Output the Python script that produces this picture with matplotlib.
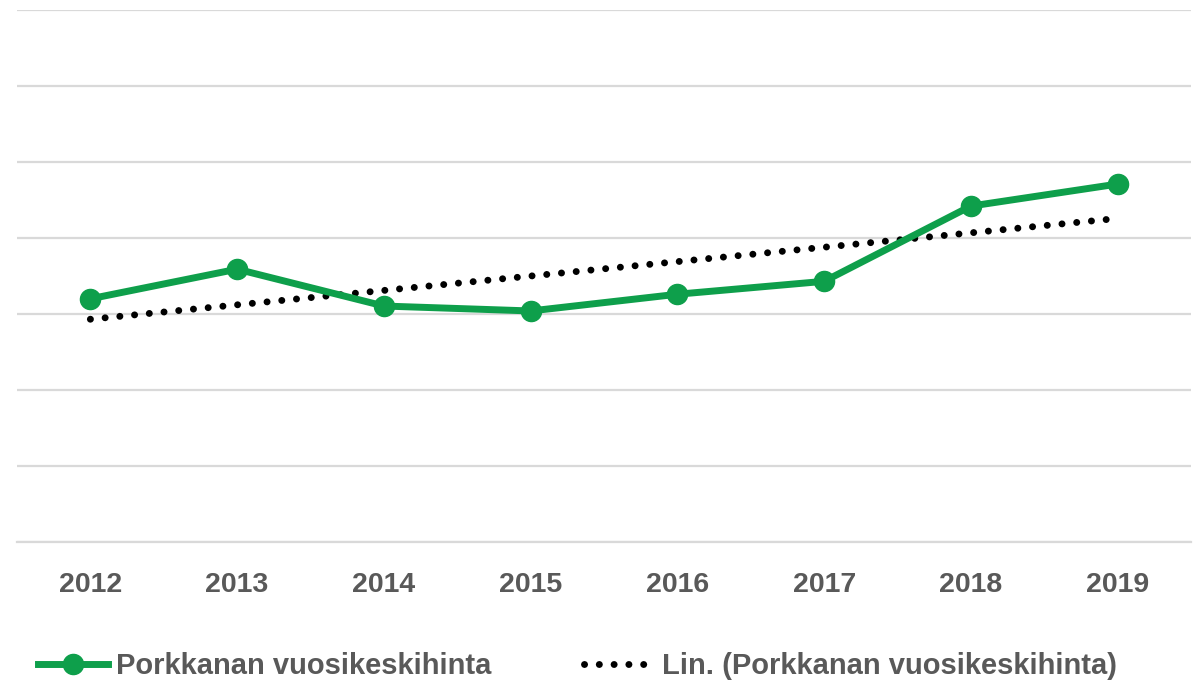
import matplotlib
matplotlib.use("Agg")
import matplotlib.pyplot as plt
import numpy as np

years = ["2012", "2013", "2014", "2015", "2016", "2017", "2018", "2019"]
price = [3.20, 3.59, 3.105, 3.04, 3.26, 3.43, 4.42, 4.71]
series_label = "Porkkanan vuosikeskihinta"
trend_label = "Lin. (Porkkanan vuosikeskihinta)"

green = "#0E9F4B"
txt = "#595959"
grid = "#D9D9D9"

fig = plt.figure(figsize=(12.03, 6.93), dpi=100)
ax = fig.add_axes([17/1203, (693-542)/693, (1191-17)/1203, (542-10)/693])

x = np.arange(len(years))
coef = np.polyfit(x, price, 1)
trend = np.polyval(coef, x)

ax.plot(x, trend, color="black", lw=5.0, linestyle=(0, (0.01, 2.12)),
        dash_capstyle="round", label=trend_label, zorder=2)
ax.plot(x, price, color=green, lw=5.0, marker="o", markersize=14.5,
        label=series_label, zorder=3)

ax.set_xlim(-0.5, len(years) - 0.5)
ax.set_ylim(0, 7)
ax.set_yticks(np.arange(0, 8))
ax.yaxis.grid(True, color=grid, lw=1.6)
ax.set_axisbelow(True)
ax.tick_params(axis="y", left=False, labelleft=False)
ax.tick_params(axis="x", bottom=False, pad=18)
ax.set_xticks(x)
ax.set_xticklabels(years, fontsize=20.5, fontweight="bold", color=txt,
                   family="Liberation Sans")
for s in ["left", "right", "top"]:
    ax.spines[s].set_visible(False)
ax.spines["bottom"].set_color(grid)
ax.spines["bottom"].set_linewidth(1.6)

h, l = ax.get_legend_handles_labels()
leg = fig.legend([h[1], h[0]], [l[1], l[0]], loc="center",
                 bbox_to_anchor=(0.48, 1 - 666/693), ncol=2, frameon=False,
                 prop={"family": "Liberation Sans", "weight": "bold", "size": 21},
                 handlelength=2.4, handletextpad=0.25, columnspacing=3.2)
for t in leg.get_texts():
    t.set_color(txt)

fig.savefig("out.png", dpi=100, facecolor="white")
